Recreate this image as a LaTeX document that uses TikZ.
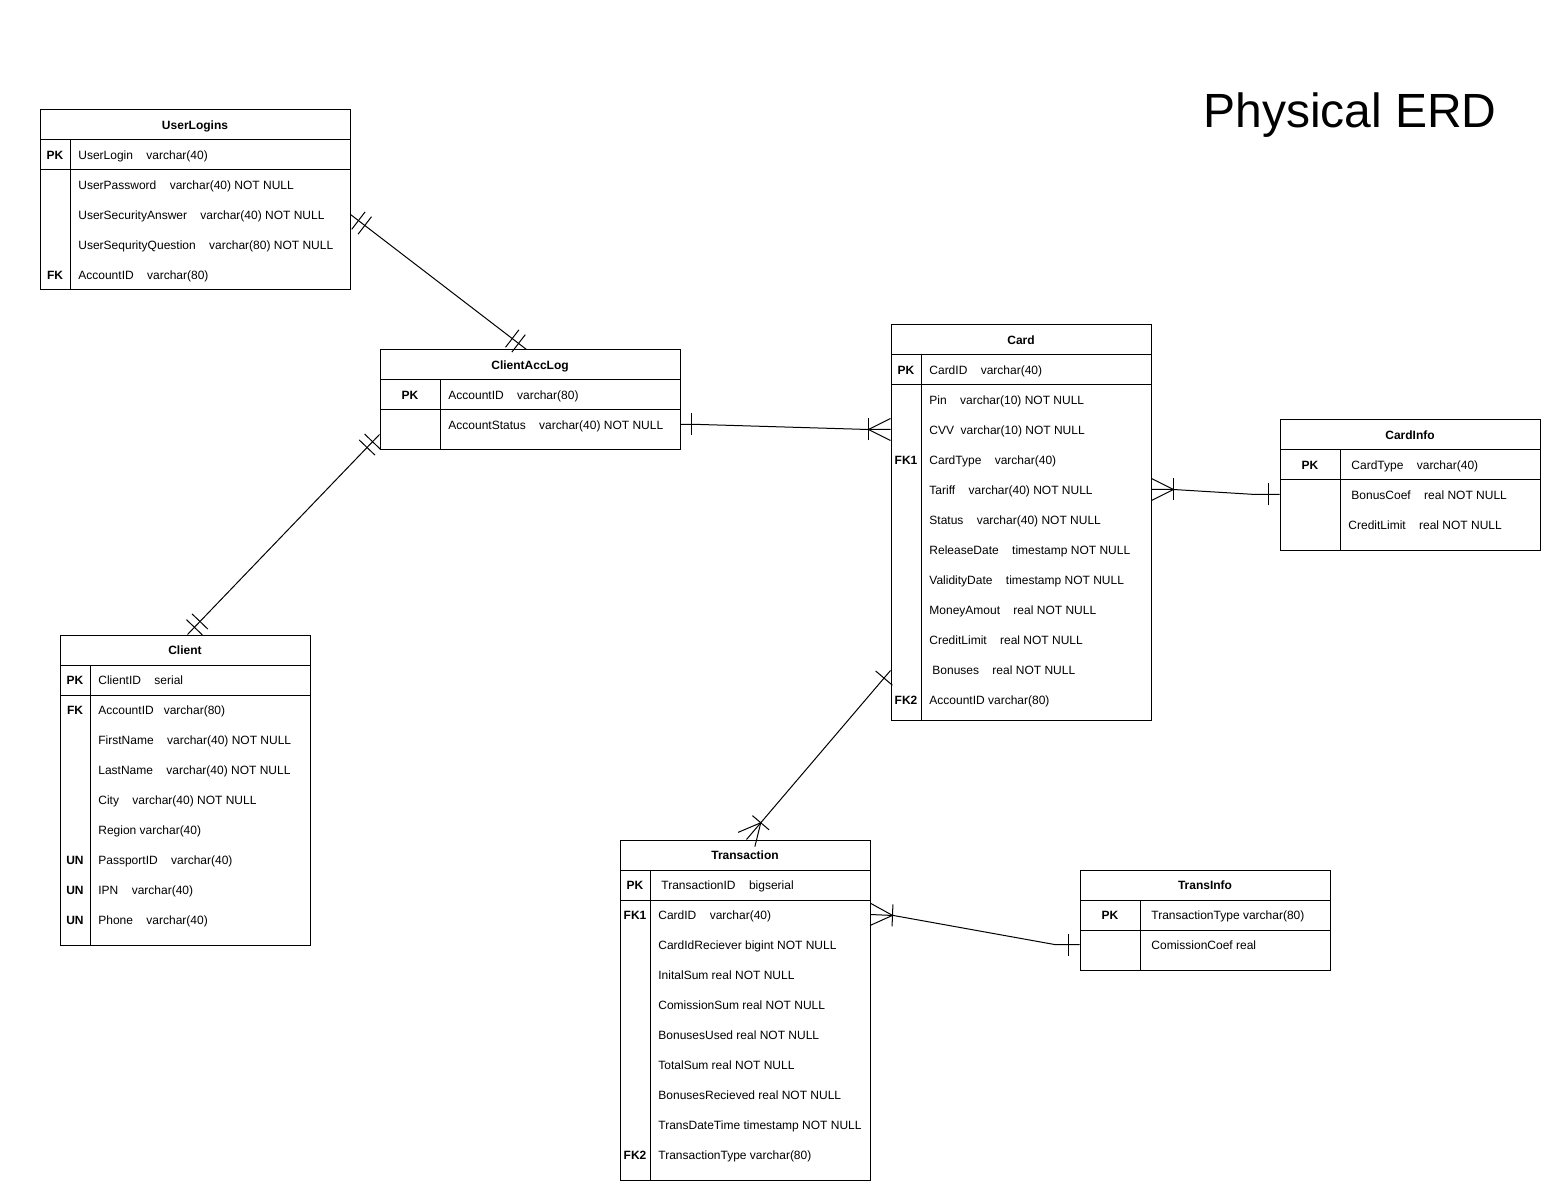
\documentclass[tikz,border=0pt]{standalone}
\usepackage{fontspec}
\setmainfont{Liberation Sans}
\usetikzlibrary{calc,fit}
\tikzset{
  erline/.style={line width=0.5pt, line join=miter},
  tbl/.style={draw, line width=0.5pt, inner sep=0pt},
  hdr/.style={font=\fontsize{6pt}{7pt}\selectfont\bfseries, inner sep=0pt, text height=5.5pt, text depth=1.2pt},
  fldtxt/.style={font=\fontsize{6pt}{7pt}\selectfont, inner sep=0pt, anchor=west, text height=5.5pt, text depth=1.2pt},
  keytxt/.style={font=\fontsize{6pt}{7pt}\selectfont\bfseries, inner sep=0pt, text height=5.5pt, text depth=1.2pt},
}
\newcommand{\ertab}[7]{%
  \node[tbl, fit={(#2,#3) (#4,#5)}] (#1) {};
  \node[hdr] (#1-title) at ({(#2+#4)/2},#3+15) {#7};
  \draw[erline] (#2,#3+30) -- (#4,#3+30) (#2,#3+60) -- (#4,#3+60) (#6,#3+30) -- (#6,#5);
}
\newcommand{\ftext}[4]{\node[fldtxt] (#1) at (#2,#3) {#4};}
\newcommand{\ktext}[4]{\node[keytxt] (#1) at (#2,#3) {#4};}
\newcommand{\ergap}{\hspace{6.7pt}}
\newcommand{\erbar}[3]{\draw[erline] ($(#1)!#3!(#2)!5.5pt!90:(#2)$) -- ($(#1)!#3!(#2)!5.5pt!-90:(#2)$);}
\newcommand{\ercrow}[2]{\draw[erline] ($(#1)!5.5pt!90:(#2)$) -- ($(#1)!11pt!(#2)$) -- ($(#1)!5.5pt!-90:(#2)$);}
\begin{document}
\begin{tikzpicture}[x=0.5pt,y=-0.5pt]
\fill[white] (0,0) rectangle (1541,1181);
\useasboundingbox (0,0) rectangle (1541,1181);

\node[font=\fontsize{24pt}{28pt}\selectfont, inner sep=0pt] (title) at (1350,115) {Physical ERD};

% UserLogins
\ertab{ul}{40}{110}{350}{290}{70}{UserLogins}
\ktext{ul-k1}{55}{155}{PK}
\ftext{ul-f1}{78}{155}{UserLogin\ergap varchar(40)}
\ftext{ul-f2}{78}{185}{UserPassword\ergap varchar(40) NOT NULL}
\ftext{ul-f3}{78}{215}{UserSecurityAnswer\ergap varchar(40) NOT NULL}
\ftext{ul-f4}{78}{245}{UserSequrityQuestion\ergap varchar(80) NOT NULL}
\ktext{ul-k5}{55}{275}{FK}
\ftext{ul-f5}{78}{275}{AccountID\ergap varchar(80)}

% ClientAccLog
\ertab{cal}{380}{350}{680}{450}{440}{ClientAccLog}
\ktext{cal-k1}{410}{395}{PK}
\ftext{cal-f1}{448}{395}{AccountID\ergap varchar(80)}
\ftext{cal-f2}{448}{425}{AccountStatus\ergap varchar(40) NOT NULL}

% Card
\ertab{card}{891}{325}{1151}{720}{921}{Card}
\ktext{card-k1}{906}{370}{PK}
\ftext{card-f1}{929}{370}{CardID\ergap varchar(40)}
\ftext{card-f2}{929}{400}{Pin\ergap varchar(10) NOT NULL}
\ftext{card-f3}{929}{430}{CVV\hspace{3.3pt}varchar(10) NOT NULL}
\ktext{card-k4}{906}{460}{FK1}
\ftext{card-f4}{929}{460}{CardType\ergap varchar(40)}
\ftext{card-f5}{929}{490}{Tariff\ergap varchar(40) NOT NULL}
\ftext{card-f6}{929}{520}{Status\ergap varchar(40) NOT NULL}
\ftext{card-f7}{929}{550}{ReleaseDate\ergap timestamp NOT NULL}
\ftext{card-f8}{929}{580}{ValidityDate\ergap timestamp NOT NULL}
\ftext{card-f9}{929}{610}{MoneyAmout\ergap real NOT NULL}
\ftext{card-f10}{929}{640}{CreditLimit\ergap real NOT NULL}
\ftext{card-f11}{932}{670}{Bonuses\ergap real NOT NULL}
\ktext{card-k12}{906}{700}{FK2}
\ftext{card-f12}{929}{700}{AccountID varchar(80)}

% CardInfo
\ertab{ci}{1280}{420}{1540}{550}{1340}{CardInfo}
\ktext{ci-k1}{1310}{465}{PK}
\ftext{ci-f1}{1351}{465}{CardType\ergap varchar(40)}
\ftext{ci-f2}{1351}{495}{BonusCoef\ergap real NOT NULL}
\ftext{ci-f3}{1348}{525}{CreditLimit\ergap real NOT NULL}

% Client
\ertab{cl}{60}{635}{310}{945}{90}{Client}
\ktext{cl-k1}{75}{680}{PK}
\ftext{cl-f1}{98}{680}{ClientID\ergap serial}
\ktext{cl-k2}{75}{710}{FK}
\ftext{cl-f2}{98}{710}{AccountID\hspace{5pt}varchar(80)}
\ftext{cl-f3}{98}{740}{FirstName\ergap varchar(40) NOT NULL}
\ftext{cl-f4}{98}{770}{LastName\ergap varchar(40) NOT NULL}
\ftext{cl-f5}{98}{800}{City\ergap varchar(40) NOT NULL}
\ftext{cl-f6}{98}{830}{Region varchar(40)}
\ktext{cl-k7}{75}{860}{UN}
\ftext{cl-f7}{98}{860}{PassportID\ergap varchar(40)}
\ktext{cl-k8}{75}{890}{UN}
\ftext{cl-f8}{98}{890}{IPN\ergap varchar(40)}
\ktext{cl-k9}{75}{920}{UN}
\ftext{cl-f9}{98}{920}{Phone\ergap varchar(40)}

% Transaction
\ertab{tr}{620}{840}{870}{1180}{650}{Transaction}
\ktext{tr-k1}{635}{885}{PK}
\ftext{tr-f1}{661}{885}{TransactionID\ergap bigserial}
\ktext{tr-k2}{635}{915}{FK1}
\ftext{tr-f2}{658}{915}{CardID\ergap varchar(40)}
\ftext{tr-f3}{658}{945}{CardIdReciever bigint NOT NULL}
\ftext{tr-f4}{658}{975}{InitalSum real NOT NULL}
\ftext{tr-f5}{658}{1005}{ComissionSum real NOT NULL}
\ftext{tr-f6}{658}{1035}{BonusesUsed real NOT NULL}
\ftext{tr-f7}{658}{1065}{TotalSum real NOT NULL}
\ftext{tr-f8}{658}{1095}{BonusesRecieved real NOT NULL}
\ftext{tr-f9}{658}{1125}{TransDateTime timestamp NOT NULL}
\ktext{tr-k10}{635}{1155}{FK2}
\ftext{tr-f10}{658}{1155}{TransactionType varchar(80)}

% TransInfo
\ertab{ti}{1080}{870}{1330}{970}{1140}{TransInfo}
\ktext{ti-k1}{1110}{915}{PK}
\ftext{ti-f1}{1151}{915}{TransactionType varchar(80)}
\ftext{ti-f2}{1151}{945}{ComissionCoef real}

% connector end points
\coordinate (c1a) at ($(ul.north east)+(0,105)$);
\coordinate (c1b) at ($(cal.north west)+(147,0)$);
\coordinate (c2a) at ($(cal.north west)+(0,85)$);
\coordinate (c2b) at ($(cl.north west)+(128,0)$);
\coordinate (c3a) at ($(cal.north east)+(0,75)$);
\coordinate (c3b) at ($(card.north west)+(0,105)$);
\coordinate (c3m1) at ($(c3a)+(20,0)$);
\coordinate (c3m2) at ($(c3b)+(-22,0)$);
\coordinate (d3) at ($(c3b)+(-100,0)$);
\coordinate (c4a) at ($(card.north east)+(0,165)$);
\coordinate (c4b) at ($(ci.north west)+(0,75)$);
\coordinate (c4m1) at ($(c4a)+(22,0)$);
\coordinate (c4m2) at ($(c4b)+(-24,0)$);
\coordinate (d4) at ($(c4a)+(100,0)$);
\coordinate (c5a) at ($(card.north west)+(0,346)$);
\coordinate (c5b) at ($(tr.north west)+(127,0)$);
\coordinate (c6a) at ($(tr.north east)+(0,75)$);
\coordinate (c6b) at ($(ti.north west)+(0,75)$);
\coordinate (c6m1) at ($(c6a)+(23,1)$);
\coordinate (c6m2) at ($(c6b)+(-25,0)$);
\coordinate (d6) at ($(c6a)+(100,4)$);

% UserLogins -- ClientAccLog
\draw[erline] (c1a) -- (c1b);
\erbar{c1a}{c1b}{5pt}\erbar{c1a}{c1b}{9pt}
\erbar{c1b}{c1a}{5pt}\erbar{c1b}{c1a}{9pt}
% ClientAccLog -- Client
\draw[erline] (c2a) -- (c2b);
\erbar{c2a}{c2b}{5pt}\erbar{c2a}{c2b}{9pt}
\erbar{c2b}{c2a}{5pt}\erbar{c2b}{c2a}{9pt}
% ClientAccLog -- Card
\draw[erline] (c3a) -- (c3m1) -- (c3m2) -- (c3b);
\erbar{c3a}{c3m1}{5.5pt}
\ercrow{c3b}{d3}\erbar{c3b}{d3}{11pt}
% Card -- CardInfo
\draw[erline] (c4a) -- (c4m1) -- (c4m2) -- (c4b);
\ercrow{c4a}{d4}\erbar{c4a}{d4}{11pt}
\erbar{c4b}{c4m2}{5.5pt}
% Card -- Transaction
\draw[erline] (c5a) -- (c5b);
\erbar{c5a}{c5b}{5pt}
\ercrow{c5b}{c5a}\erbar{c5b}{c5a}{11pt}
% Transaction -- TransInfo
\draw[erline] (c6a) -- (c6m1) -- (c6m2) -- (c6b);
\ercrow{c6a}{d6}\erbar{c6a}{d6}{11pt}
\erbar{c6b}{c6m2}{5.5pt}
\end{tikzpicture}
\end{document}
